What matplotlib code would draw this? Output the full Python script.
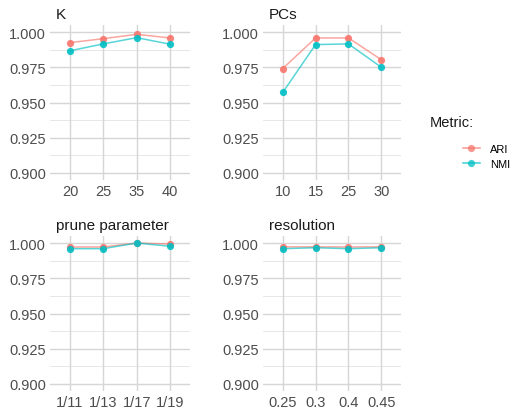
import matplotlib
matplotlib.use("Agg")
import matplotlib.pyplot as plt
from matplotlib.lines import Line2D

plt.rcParams['font.family'] = ['Liberation Sans', 'DejaVu Sans']

ARI_COL = '#F8766D'
NMI_COL = '#00BFC4'

# parameter sweeps
k_labels = ['20', '25', '35', '40']
k_ari = [0.9925, 0.9953, 0.9984, 0.9958]
k_nmi = [0.9867, 0.9916, 0.9960, 0.9914]

pc_labels = ['10', '15', '25', '30']
pc_ari = [0.9741, 0.9958, 0.9958, 0.9804]
pc_nmi = [0.9571, 0.9911, 0.9916, 0.9750]

prune_labels = ['1/11', '1/13', '1/17', '1/19']
prune_ari = [0.9972, 0.9972, 1.0000, 0.9993]
prune_nmi = [0.9960, 0.9960, 1.0000, 0.9977]

res_labels = ['0.25', '0.3', '0.4', '0.45']
res_ari = [0.9973, 0.9973, 0.9972, 0.9973]
res_nmi = [0.9960, 0.9967, 0.9960, 0.9967]

panels = [
    ('K', k_labels, k_ari, k_nmi, (50, 26, 190, 181)),
    ('PCs', pc_labels, pc_ari, pc_nmi, (263, 26, 401, 181)),
    ('prune parameter', prune_labels, prune_ari, prune_nmi, (50, 237, 190, 392)),
    ('resolution', res_labels, res_ari, res_nmi, (263, 237, 401, 392)),
]

W, H = 512, 414
fig = plt.figure(figsize=(W / 100, H / 100), dpi=100)

yticks = [0.900, 0.925, 0.950, 0.975, 1.000]
yminor = [0.9125, 0.9375, 0.9625, 0.9875]

for title, labels, ari, nmi, (x0, y0, x1, y1) in panels:
    ax = fig.add_axes([x0 / W, 1 - y1 / H, (x1 - x0) / W, (y1 - y0) / H])
    xs = range(len(labels))
    for y in yminor:
        ax.axhline(y, color='#E3E3E3', lw=0.6, zorder=0)
    for y in yticks:
        ax.axhline(y, color='#D6D6D6', lw=1.0, zorder=0)
    for x in xs:
        ax.axvline(x, color='#D6D6D6', lw=1.0, zorder=0)
    for vals, col in ((ari, ARI_COL), (nmi, NMI_COL)):
        ax.plot(xs, vals, color=col, lw=1.1, alpha=0.65, zorder=2)
        ax.plot(xs, vals, 'o', color=col, ms=5.2, mec='none', alpha=0.9, zorder=3)
    ax.set_xlim(-0.6, len(labels) - 0.4)
    ax.set_ylim(0.895, 1.005)
    ax.set_xticks(list(xs))
    ax.set_xticklabels(labels)
    ax.set_yticks(yticks)
    ax.set_yticklabels(['%.3f' % v for v in yticks])
    ax.tick_params(length=0, labelsize=10.5, labelcolor='#4D4D4D', pad=3)
    for s in ax.spines.values():
        s.set_visible(False)
    ax.set_title(title, loc='left', x=0.04, fontsize=11, color='#1A1A1A', pad=5)

# legend
fig.text(430 / W, 1 - 123 / H, 'Metric:', fontsize=10.5, color='#1A1A1A',
         ha='left', va='center')
handles = [
    Line2D([], [], color=col, lw=1.1, marker='o', ms=5.2, mec='none', alpha=0.75)
    for col in (ARI_COL, NMI_COL)
]
fig.legend(handles, ['ARI', 'NMI'], loc='upper left',
           bbox_to_anchor=(463 / W, 1 - 145 / H), frameon=False,
           fontsize=8, handlelength=1.5, labelspacing=0.45,
           handletextpad=0.9, borderpad=0, borderaxespad=0)

fig.savefig('out.png', dpi=100)
